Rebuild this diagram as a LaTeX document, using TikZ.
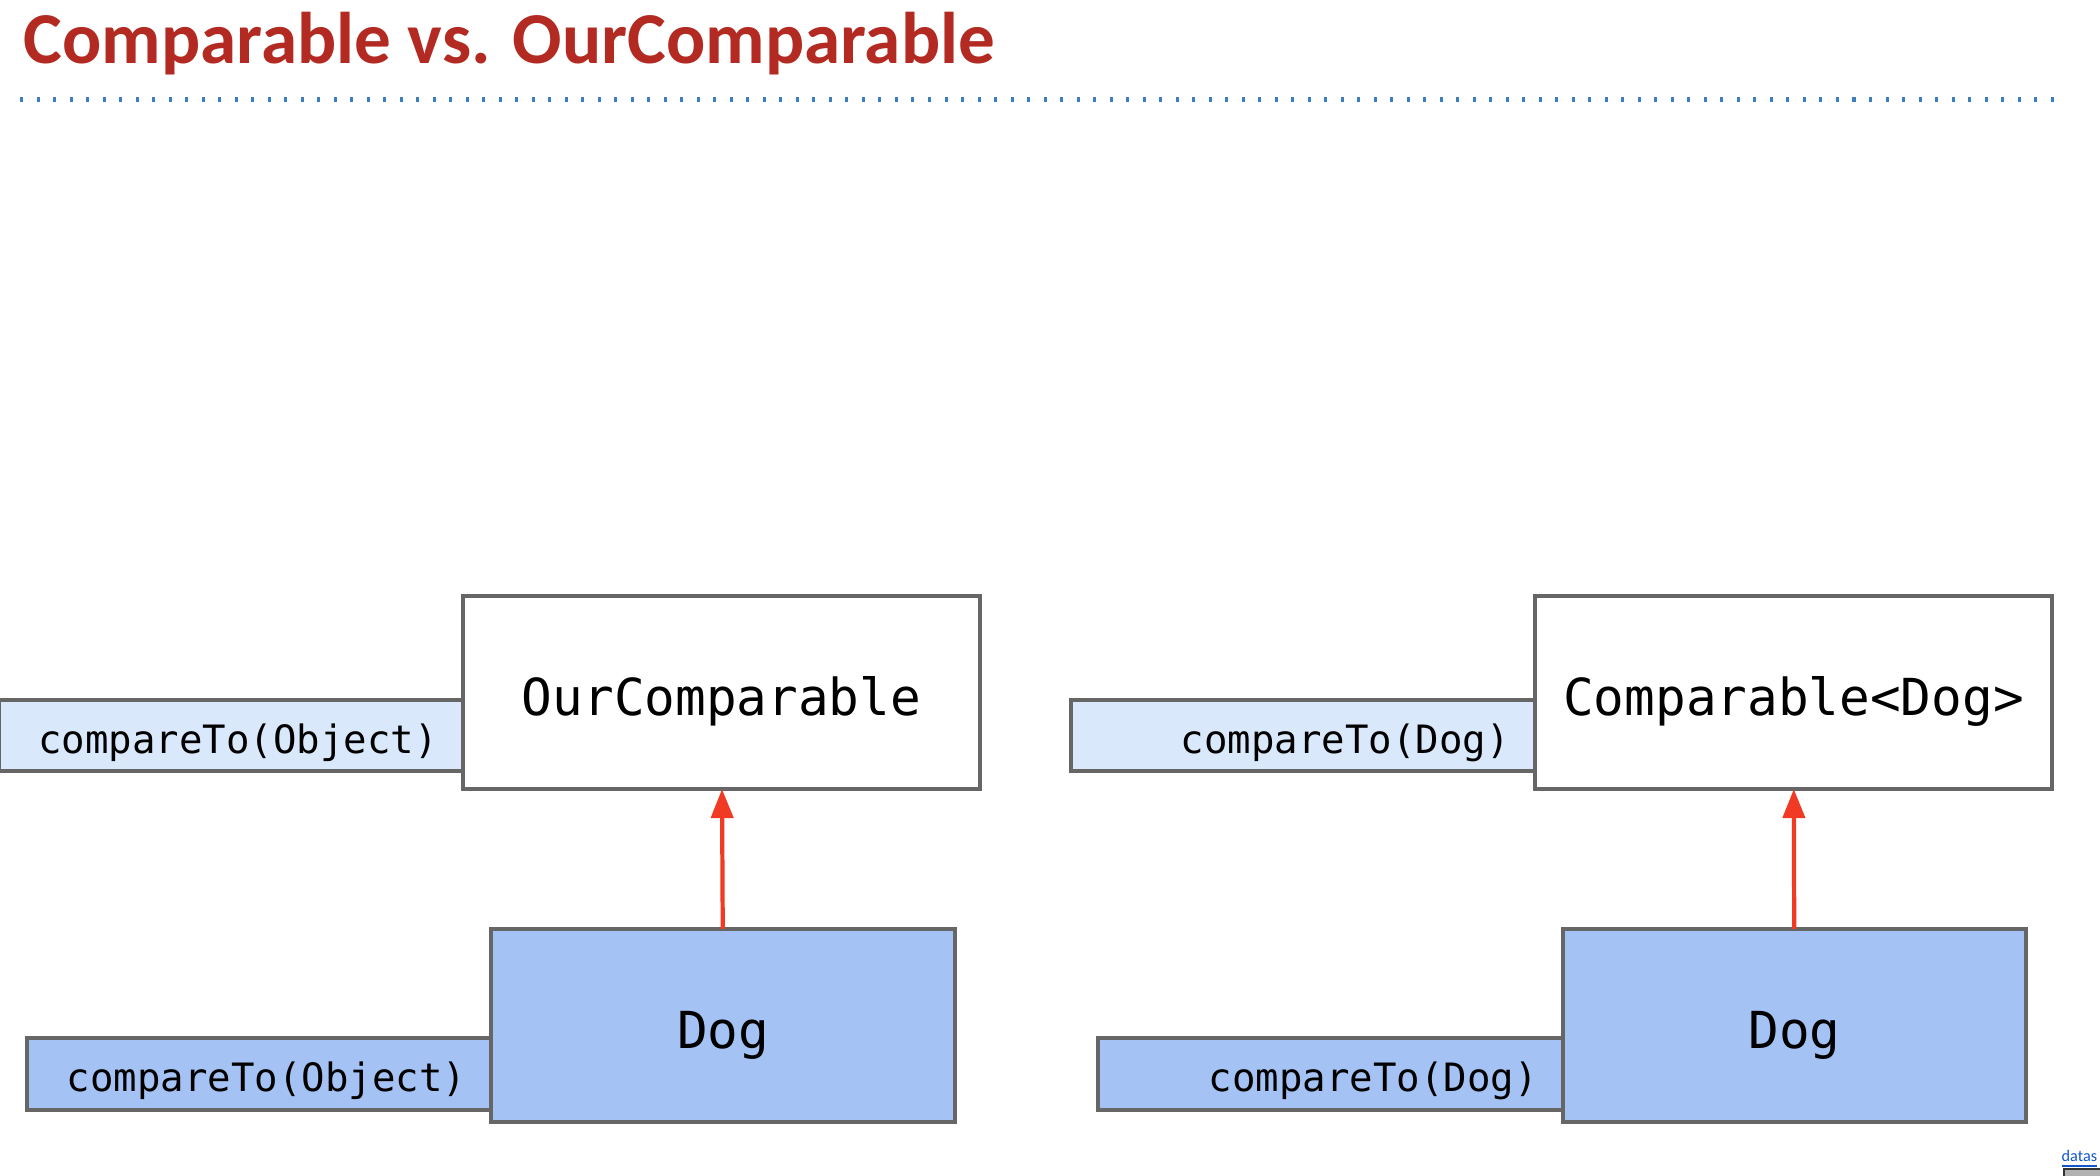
\documentclass[tikz,border=0pt]{standalone}
\usepackage{fontspec}
\setmainfont{Carlito}
\setmonofont{DejaVu Sans Mono}
\usepackage{tikz}
\usetikzlibrary{positioning, arrows.meta}
\definecolor{titlered}{HTML}{B22A22}
\definecolor{ruleblue}{HTML}{3D7DC4}
\definecolor{paleblue}{HTML}{DAE8FC}
\definecolor{dogblue}{HTML}{A4C2F4}
\definecolor{edgegray}{HTML}{666666}
\definecolor{arrowred}{HTML}{F03A24}
\definecolor{linkblue}{HTML}{1155CC}
\tikzstyle{iface} = [rectangle, minimum width=5.17cm, minimum height=1.93cm, inner sep=0pt, outer sep=0pt, text centered, draw=edgegray, line width=1.1pt, fill=white, font=\ttfamily\fontsize{14.5}{16}\selectfont, text height=12.9pt, text depth=0pt]
\tikzstyle{klass} = [iface, minimum width=4.635cm, fill=dogblue]
\tikzstyle{method} = [rectangle, minimum height=0.715cm, text width=4.14cm, align=right, inner xsep=0.25cm, inner ysep=0pt, outer sep=0pt, draw=edgegray, line width=1.1pt, fill=paleblue, font=\ttfamily\fontsize{11.1}{13}\selectfont, text height=10.2pt, text depth=0pt]
\tikzstyle{arrow} = [line width=1.2pt, draw=arrowred, -{Triangle[length=2.9mm, width=2.2mm]}]

\begin{document}
\begin{tikzpicture}[x=0.01cm, y=-0.01cm]
    \useasboundingbox (0,0) rectangle (2100,1176);

    \node (title) [anchor=base west, inner sep=0pt, text=titlered, font=\bfseries\fontsize{20.8}{24}\selectfont] at (23,64) {Comparable vs. OurComparable};
    \draw [ruleblue, line width=0.05cm, dash pattern=on 0.03cm off 0.135cm] (20,100) -- (2056,100);

    \node (ourcmp) [iface] at (721.5,692.5) {OurComparable};
    \node (ourmeth) [method, left=0pt of ourcmp.west, yshift=-0.43cm] {compareTo(Object)};
    \node (dogl) [klass] at (723.25,1025.5) {Dog};
    \node (doglmeth) [method, left=0pt of dogl.west, yshift=-0.485cm, fill=dogblue] {compareTo(Object)};

    \node (gencmp) [iface] at (1793.5,692.5) {Comparable<Dog>};
    \node (genmeth) [method, left=0pt of gencmp.west, yshift=-0.43cm] {compareTo(Dog)};
    \node (dogr) [klass] at (1794.5,1025.5) {Dog};
    \node (dogrmeth) [method, left=0pt of dogr.west, yshift=-0.485cm, fill=dogblue] {compareTo(Dog)};

    \draw [arrow] (dogl) -- (ourcmp);
    \draw [arrow] (dogr) -- (gencmp);

    \node (link) [anchor=base west, inner sep=0pt, text=linkblue, font=\fontsize{4.6}{5}\selectfont] at (2061,1161) {\underline{datas}};
    \node (badge) [anchor=north west, minimum width=0.5cm, minimum height=0.3cm, inner sep=0pt, draw=black!80, line width=0.5pt, fill=black!30] at (2063,1168) {};
\end{tikzpicture}
\end{document}
